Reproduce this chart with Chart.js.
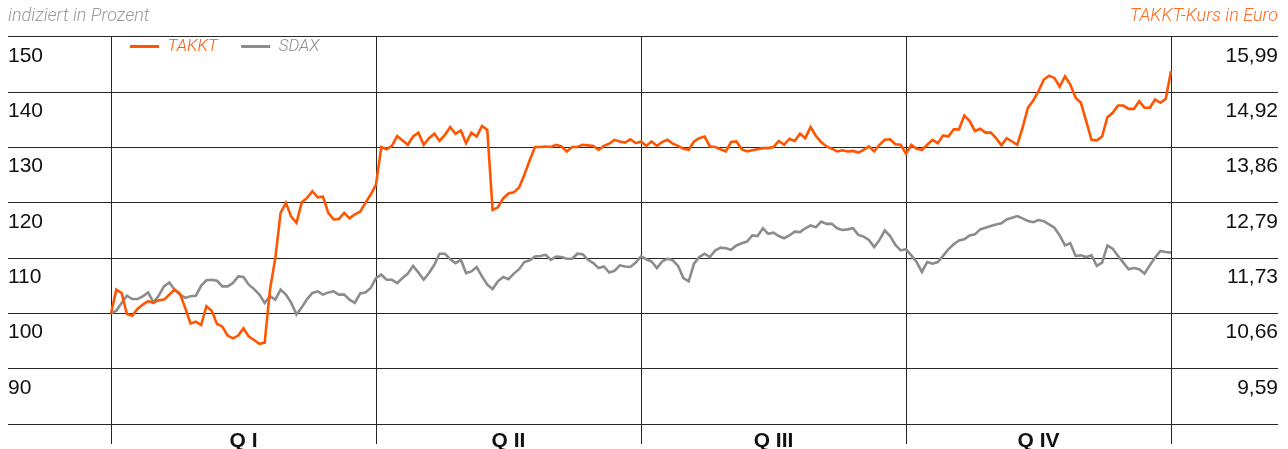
<!DOCTYPE html>
<html>
<head>
<meta charset="utf-8">
<script src="https://cdn.jsdelivr.net/npm/chart.js@4"></script>
<style>
  html, body { margin: 0; padding: 0; background: #fff; }
  #wrap { width: 1288px; height: 449px; }
</style>
</head>
<body>
<div id="wrap"><canvas id="chart" width="1288" height="449"></canvas></div>
<script>
// indexed values (start = 100), one point per ~trading day, 50 per quarter
const takktQ1 = [100.0, 104.3, 103.7, 99.9, 99.6, 100.8, 101.6, 102.2, 101.9, 102.4, 102.5, 103.4, 104.3, 103.6, 101.0, 98.2, 98.5, 97.9, 101.3, 100.5, 98.1, 97.6, 96.0, 95.5, 96.0, 97.3, 95.8, 95.2, 94.5, 94.7, 104.3, 110.0, 118.2, 120.0, 117.5, 116.4, 120.1, 120.9, 122.1, 121.0, 121.1, 118.2, 117.0, 117.1, 118.2, 117.2, 117.9, 118.4, 120.0, 121.5];
const takktQ2 = [123.3, 130.1, 129.7, 130.3, 132.1, 131.3, 130.5, 132.0, 132.7, 130.5, 131.7, 132.5, 131.2, 132.3, 133.7, 132.5, 133.1, 130.8, 132.7, 132.0, 133.9, 133.2, 118.7, 119.2, 120.8, 121.7, 121.9, 122.8, 125.1, 127.7, 130.1, 130.1, 130.2, 130.1, 130.5, 130.2, 129.3, 130.1, 130.1, 130.5, 130.4, 130.3, 129.6, 130.3, 130.7, 131.4, 131.1, 130.9, 131.5, 130.8];
const takktQ3 = [131.1, 130.3, 131.1, 130.3, 131.0, 131.4, 130.7, 130.3, 129.8, 129.6, 131.1, 131.7, 132.0, 130.2, 130.1, 129.7, 129.3, 131.0, 131.1, 129.7, 129.3, 129.5, 129.7, 129.9, 129.9, 130.1, 131.2, 130.5, 131.6, 131.2, 132.5, 131.7, 133.7, 132.1, 131.0, 130.2, 129.8, 129.3, 129.5, 129.3, 129.4, 129.1, 129.6, 130.2, 129.3, 130.5, 131.4, 131.5, 130.6, 130.5];
const takktQ4 = [128.9, 130.5, 129.8, 129.6, 130.5, 131.4, 130.8, 132.2, 132.0, 133.3, 133.3, 135.8, 134.8, 133.0, 133.4, 132.7, 132.7, 131.7, 130.4, 131.7, 131.1, 130.5, 133.6, 137.2, 138.5, 140.2, 142.3, 143.0, 142.6, 141.0, 142.9, 141.4, 139.0, 138.1, 134.8, 131.4, 131.3, 132.0, 135.5, 136.3, 137.6, 137.6, 137.0, 137.0, 138.4, 137.2, 137.2, 138.7, 138.1, 138.8, 143.8];

const sdaxQ1 = [100.0, 100.5, 101.9, 103.2, 102.6, 102.6, 103.1, 103.8, 102.0, 103.2, 104.9, 105.6, 104.3, 103.4, 102.8, 103.1, 103.2, 105.0, 106.0, 106.1, 105.9, 104.9, 104.9, 105.5, 106.7, 106.6, 105.2, 104.4, 103.4, 101.9, 103.1, 102.5, 104.3, 103.4, 101.9, 99.8, 101.1, 102.6, 103.7, 104.0, 103.4, 103.8, 104.0, 103.4, 103.4, 102.5, 101.9, 103.6, 103.8, 104.6];
const sdaxQ2 = [106.4, 107.0, 106.1, 106.1, 105.5, 106.4, 107.2, 108.6, 107.4, 106.1, 107.3, 108.8, 110.8, 110.8, 109.8, 109.1, 109.7, 107.3, 107.6, 108.4, 106.7, 105.2, 104.4, 105.8, 106.6, 106.2, 107.2, 108.0, 109.3, 109.6, 110.3, 110.4, 110.6, 109.7, 110.3, 110.2, 109.9, 109.9, 110.8, 110.7, 109.7, 109.1, 108.2, 108.5, 107.4, 107.7, 108.7, 108.5, 108.4, 109.2];
const sdaxQ3 = [110.3, 109.8, 109.4, 108.2, 109.4, 109.9, 109.6, 108.6, 106.4, 105.8, 109.0, 110.2, 110.8, 110.2, 111.4, 111.9, 111.8, 111.5, 112.3, 112.7, 113.0, 114.1, 114.0, 115.4, 114.4, 114.6, 114.0, 113.6, 114.1, 114.8, 114.7, 115.4, 115.9, 115.6, 116.6, 116.2, 116.2, 115.4, 115.1, 115.2, 115.4, 114.2, 113.9, 113.3, 112.0, 113.3, 115.0, 114.0, 112.4, 111.4];
const sdaxQ4 = [111.6, 110.5, 109.3, 107.5, 109.3, 109.0, 109.3, 110.4, 111.6, 112.5, 113.2, 113.4, 114.1, 114.3, 115.2, 115.5, 115.8, 116.1, 116.3, 117.0, 117.3, 117.6, 117.2, 116.7, 116.5, 116.9, 116.7, 116.1, 115.5, 114.1, 112.3, 112.7, 110.4, 110.5, 110.2, 110.5, 108.6, 109.2, 112.3, 111.7, 110.4, 109.2, 108.0, 108.2, 108.0, 107.2, 108.7, 110.1, 111.3, 111.1, 111.0];

const quarterLabels = ['Q I', 'Q II', 'Q III', 'Q IV'];
const indexTicks = [150, 140, 130, 120, 110, 100, 90];
const euroTicks = ['15,99', '14,92', '13,86', '12,79', '11,73', '10,66', '9,59'];

const takkt = [].concat(takktQ1, takktQ2, takktQ3, takktQ4);
const sdax = [].concat(sdaxQ1, sdaxQ2, sdaxQ3, sdaxQ4);
const days = takkt.map((v, i) => String(i));
const perQuarter = takktQ1.length;

const ORANGE = '#ff5500';
const GREY = '#8c8c8c';
const LINE = '#262626';
const tickFont = { family: '"Liberation Sans", Arial, sans-serif', size: 21 };
const noteFont = { family: 'Roboto, sans-serif', size: 18, style: 'italic', weight: '300', lineHeight: 1.2 };

// legend lives inside the plot area, one row, just under the top line
const legendInPlot = {
    id: 'legendInPlot',
    beforeLayout(chart) {
        if (chart.legend) chart.legend.isHorizontal = () => true;
    },
    afterLayout(chart) {
        const lg = chart.legend;
        if (!lg) return;
        lg.left = chart.chartArea.left - 4.5;
        lg.right = lg.left + lg.width;
        lg.top = chart.chartArea.top - 22.5;
        lg.bottom = lg.top + lg.height;
    }
};

new Chart(document.getElementById('chart'), {
    type: 'line',
    data: {
        labels: days,
        datasets: [{
            label: 'TAKKT',
            data: takkt,
            borderColor: ORANGE,
            backgroundColor: ORANGE,
            borderWidth: 2.6,
            pointRadius: 0,
            tension: 0,
            yAxisID: 'y'
        }, {
            label: 'SDAX',
            data: sdax,
            borderColor: GREY,
            backgroundColor: GREY,
            borderWidth: 2.6,
            pointRadius: 0,
            tension: 0,
            yAxisID: 'y'
        }]
    },
    options: {
        responsive: false,
        animation: false,
        layout: { padding: { left: 8, right: 10, top: 0, bottom: 0 } },
        plugins: {
            title: {
                display: true,
                text: 'indiziert in Prozent',
                align: 'start',
                color: '#9a9a9a',
                font: noteFont,
                padding: { top: 5.7, bottom: 0 }
            },
            subtitle: {
                display: true,
                text: 'TAKKT-Kurs in Euro',
                align: 'end',
                color: '#ff6a1f',
                font: noteFont,
                padding: { top: -21.6, bottom: 9.7 }
            },
            legend: {
                position: 'chartArea',
                align: 'start',
                labels: {
                    boxWidth: 29,
                    boxHeight: 3,
                    padding: 23.5,
                    font: { family: 'Roboto, sans-serif', size: 17, style: 'italic', weight: '300' },
                    generateLabels(chart) {
                        return chart.data.datasets.map((ds, i) => ({
                            text: ds.label,
                            fillStyle: ds.borderColor,
                            strokeStyle: 'rgba(0,0,0,0)',
                            lineWidth: 0,
                            fontColor: ds.borderColor,
                            hidden: false,
                            datasetIndex: i
                        }));
                    }
                }
            },
            tooltip: { enabled: false }
        },
        scales: {
            x: {
                type: 'category',
                offset: false,
                border: { display: false },
                grid: {
                    color: ctx => (ctx.index % perQuarter === 0 ? LINE : 'rgba(0,0,0,0)'),
                    lineWidth: 1,
                    tickLength: 20,
                    drawOnChartArea: true
                },
                ticks: {
                    autoSkip: false,
                    maxRotation: 0,
                    padding: -15,
                    color: '#111',
                    font: { family: '"Liberation Sans", Arial, sans-serif', size: 21, weight: 'bold' },
                    callback: (v, i) => (i % perQuarter === perQuarter / 2 ? quarterLabels[Math.floor(i / perQuarter)] : '')
                },
                afterFit(scale) { scale.height = 25; }
            },
            y: {
                position: 'left',
                min: 80,
                max: 150,
                border: { display: false },
                grid: { color: LINE, lineWidth: 1, tickLength: 103 },
                ticks: {
                    stepSize: 10,
                    crossAlign: 'far',
                    labelOffset: 19,
                    color: '#111',
                    font: tickFont,
                    callback: v => (indexTicks.includes(v) ? String(v) : '')
                },
                afterFit(scale) { scale.width = 103; }
            },
            y2: {
                position: 'right',
                min: 80,
                max: 150,
                border: { display: false },
                grid: { color: LINE, lineWidth: 1, tickLength: 107, drawOnChartArea: false },
                ticks: {
                    stepSize: 10,
                    crossAlign: 'far',
                    labelOffset: 19,
                    color: '#111',
                    font: tickFont,
                    callback: v => (indexTicks.includes(v) ? euroTicks[indexTicks.indexOf(v)] : '')
                },
                afterFit(scale) { scale.width = 107; }
            }
        }
    },
    plugins: [legendInPlot]
});
</script>
</body>
</html>
